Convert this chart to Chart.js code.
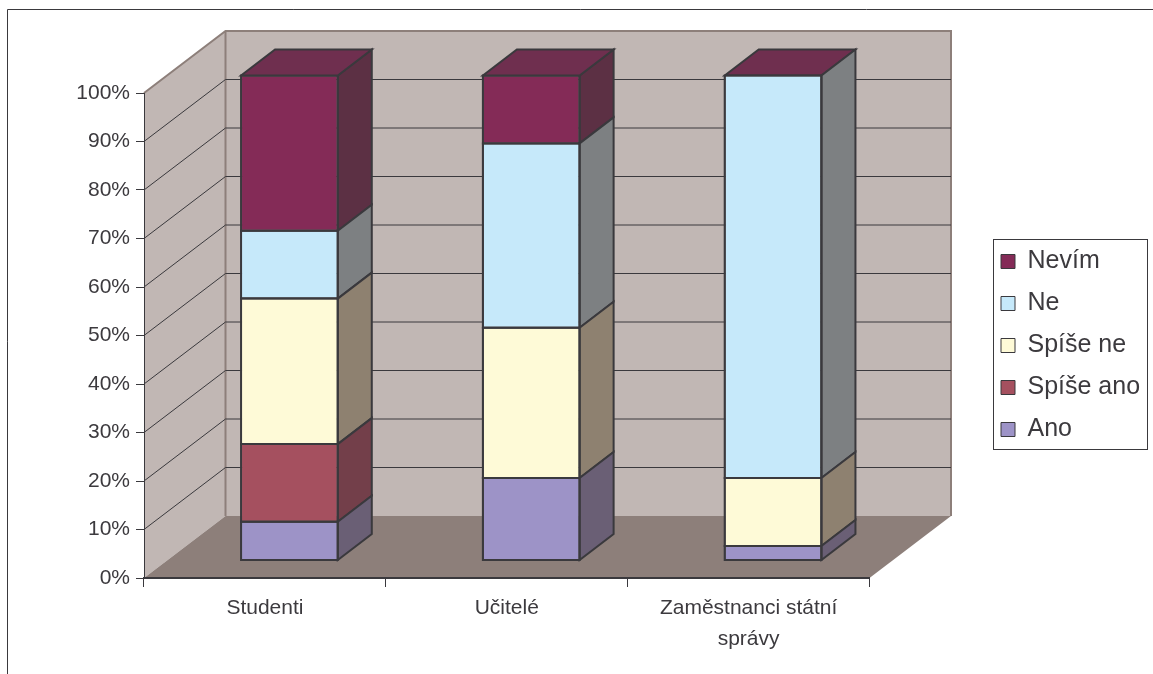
<!DOCTYPE html>
<html>
<head>
<meta charset="utf-8">
<style>
html, body { margin: 0; padding: 0; background: #fff; }
canvas { display: block; }
</style>
<script src="https://cdn.jsdelivr.net/npm/chart.js@4"></script>
</head>
<body>
<canvas id="chart" width="1153" height="674"></canvas>
<script>
const categories = ["Studenti", "Učitelé", ["Zaměstnanci státní", "správy"]];
const seriesNames = ["Ano", "Spíše ano", "Spíše ne", "Ne", "Nevím"];
const ano = [8, 17, 3];
const spiseAno = [16, 0, 0];
const spiseNe = [30, 31, 14];
const ne = [14, 38, 83];
const nevim = [32, 14, 0];

const frontColors = ["#9d93c7", "#a5505f", "#fefad7", "#c6e9fa", "#842b57"];
const sideColors = ["#6a5f75", "#733f4a", "#8e8170", "#7d8082", "#5c3044"];
const topColor = "#6f2f4f";
const lineColor = "#3a393d";
const textColor = "#3c3a3e";
const wallColor = "#c1b7b4";
const floorColor = "#8d7f7a";

// depth of the box, of the bars and how far the bars stand in from the front
const depth = { x: 81.5, y: 62 };
const barDepth = { x: 34, y: 26 };
const barShift = { x: 24.5, y: 17.5 };

function poly(ctx, pts, fill, stroke, width) {
    ctx.beginPath();
    ctx.moveTo(pts[0][0], pts[0][1]);
    for (let i = 1; i < pts.length; i++) {
        ctx.lineTo(pts[i][0], pts[i][1]);
    }
    ctx.closePath();
    if (fill) {
        ctx.fillStyle = fill;
        ctx.fill();
    }
    if (stroke) {
        ctx.strokeStyle = stroke;
        ctx.lineWidth = width;
        ctx.stroke();
    }
}

const box3d = {
    id: "box3d",
    afterLayout(chart) {
        // legend sits in its own frame, not where the layout puts it
        const l = chart.legend;
        l.left = 984;
        l.right = 1153;
        l.top = 232;
        l.bottom = 232 + 230;
    },
    beforeDraw(chart) {
        const ctx = chart.ctx;
        const a = chart.chartArea;
        const y = chart.scales.y;
        ctx.save();
        // outer frame, only top and left are on the picture
        ctx.strokeStyle = lineColor;
        ctx.lineWidth = 1;
        ctx.beginPath();
        ctx.moveTo(7.5, 674);
        ctx.lineTo(7.5, 9.5);
        ctx.lineTo(1153, 9.5);
        ctx.stroke();

        const d = depth;
        poly(ctx, [[a.left + d.x, a.top - d.y], [a.right + d.x, a.top - d.y], [a.right + d.x, a.bottom - d.y], [a.left + d.x, a.bottom - d.y]], wallColor);
        poly(ctx, [[a.left, a.bottom], [a.left, a.top], [a.left + d.x, a.top - d.y], [a.left + d.x, a.bottom - d.y]], wallColor);
        poly(ctx, [[a.left, a.bottom], [a.right, a.bottom], [a.right + d.x, a.bottom - d.y], [a.left + d.x, a.bottom - d.y]], floorColor);

        ctx.strokeStyle = floorColor;
        ctx.lineWidth = 2;
        ctx.beginPath();
        ctx.moveTo(a.left, a.top);
        ctx.lineTo(a.left + d.x, a.top - d.y);
        ctx.lineTo(a.right + d.x, a.top - d.y);
        ctx.lineTo(a.right + d.x, a.bottom - d.y);
        ctx.moveTo(a.left + d.x, a.top - d.y);
        ctx.lineTo(a.left + d.x, a.bottom - d.y);
        ctx.stroke();

        ctx.strokeStyle = lineColor;
        ctx.lineWidth = 1;
        ctx.beginPath();
        y.ticks.forEach(t => {
            if (t.value === y.min || t.value === y.max) return;
            const py = y.getPixelForValue(t.value);
            ctx.moveTo(a.left, py);
            ctx.lineTo(a.left + d.x, py - d.y);
            ctx.lineTo(a.right + d.x, py - d.y);
        });
        ctx.stroke();
        ctx.restore();

        // legend frame
        ctx.save();
        ctx.strokeStyle = lineColor;
        ctx.lineWidth = 1;
        ctx.strokeRect(993.5, 239.5, 154, 210);
        ctx.restore();
    },
    beforeDatasetDraw(chart) {
        chart.ctx.save();
        chart.ctx.translate(barShift.x, -barShift.y);
    },
    afterDatasetDraw(chart, args) {
        const ctx = chart.ctx;
        const meta = chart.getDatasetMeta(args.index);
        meta.data.forEach(bar => {
            const p = bar.getProps(["x", "y", "base", "width"], true);
            const right = p.x + p.width / 2;
            const left = p.x - p.width / 2;
            if (Math.abs(p.base - p.y) > 0.5) {
                poly(ctx, [[right, p.y], [right + barDepth.x, p.y - barDepth.y], [right + barDepth.x, p.base - barDepth.y], [right, p.base]], sideColors[args.index], lineColor, 2);
                poly(ctx, [[left, p.y], [right, p.y], [right, p.base], [left, p.base]], null, lineColor, 2);
            }
            if (args.index === seriesNames.length - 1) {
                poly(ctx, [[left, p.y], [left + barDepth.x, p.y - barDepth.y], [right + barDepth.x, p.y - barDepth.y], [right, p.y]], topColor, lineColor, 2);
            }
        });
        ctx.restore();
    }
};

const seriesValues = [ano, spiseAno, spiseNe, ne, nevim];

new Chart("chart", {
    type: "bar",
    data: {
        labels: categories,
        datasets: seriesNames.map((name, i) => ({
            label: name,
            data: seriesValues[i],
            backgroundColor: frontColors[i],
            borderColor: lineColor,
            borderWidth: 1,
            borderSkipped: false,
            barPercentage: 0.4,
            categoryPercentage: 1
        }))
    },
    options: {
        responsive: false,
        animation: false,
        layout: { padding: { top: 93, right: 133.5, left: 0, bottom: 0 } },
        plugins: {
            tooltip: { enabled: false },
            legend: {
                position: "right",
                align: "start",
                reverse: true,
                maxWidth: 150,
                labels: {
                    boxWidth: 14,
                    boxHeight: 14,
                    padding: 17,
                    color: textColor,
                    font: { family: "'Liberation Sans'", size: 25 }
                }
            }
        },
        scales: {
            x: {
                stacked: true,
                afterFit(scale) { scale.height = 96; },
                border: { color: lineColor, width: 2 },
                grid: { drawOnChartArea: false, color: lineColor, tickLength: 9, offset: true },
                ticks: {
                    color: textColor,
                    maxRotation: 0,
                    padding: 5,
                    font: { family: "'Liberation Sans'", size: 21, lineHeight: 1.5 }
                }
            },
            y: {
                stacked: true,
                min: 0,
                max: 100,
                afterFit(scale) { scale.width = 144; },
                border: { color: lineColor, width: 1 },
                grid: { drawOnChartArea: false, color: lineColor, tickLength: 8 },
                ticks: {
                    stepSize: 10,
                    color: textColor,
                    padding: 6,
                    callback: v => v + "%",
                    font: { family: "'Liberation Sans'", size: 21 }
                }
            }
        }
    },
    plugins: [box3d]
});
</script>
</body>
</html>
